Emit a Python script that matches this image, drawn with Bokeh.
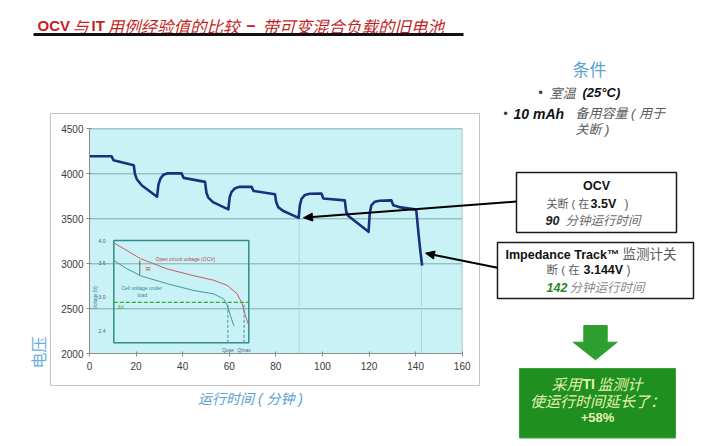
import math
from bokeh.plotting import figure
from bokeh.models import Range1d, LinearAxis, FixedTicker
from bokeh.core.properties import value
from bokeh.embed import file_html
from bokeh.resources import INLINE

# ---------------- data ----------------
time_min = [0, 9.5, 10.3, 19, 19.5, 20.3, 22.5, 29,
            29.6, 30.5, 31.8, 33.5, 39.5, 40.4, 49.6,
            50.2, 51, 53, 59.6, 60.2, 61, 62.5, 64.5, 69.6,
            70.4, 79.6, 80.2, 81, 83, 89.8,
            90.3, 91, 92.5, 94.5, 99.6, 100.4, 109.6,
            110.2, 111, 119.8, 120.3, 121, 122.5, 124.5, 129.6,
            130.4, 133, 139.6, 140.3, 141.2, 142, 142.8]
voltage_mv = [4195, 4195, 4150, 4095, 4000, 3940, 3870, 3745,
              3880, 3950, 3990, 4005, 4005, 3955, 3910,
              3790, 3735, 3685, 3605, 3740, 3800, 3840, 3855, 3855,
              3810, 3772, 3680, 3630, 3590, 3510,
              3650, 3720, 3765, 3778, 3780, 3725, 3705,
              3580, 3535, 3355, 3560, 3650, 3690, 3700, 3705,
              3650, 3630, 3605, 3590, 3350, 3150, 2980]
x_ticks = [0, 20, 40, 60, 80, 100, 120, 140, 160]
y_ticks = [2000, 2500, 3000, 3500, 4000, 4500]
cutoff_time = [90, 142.5]
cutoff_mv = [3510, 2990]

inset_ocv_x = [0, 9.9, 19.8, 39.5, 59.3, 74.1, 84, 91.4, 95.1, 97.5, 100]
inset_ocv_v = [3.96, 3.82, 3.68, 3.50, 3.38, 3.30, 3.21, 3.06, 2.89, 2.68, 2.50]
inset_load_x = [0, 9.9, 19.8, 39.5, 59.3, 74.1, 81.5, 84, 86.4, 88.9]
inset_load_v = [3.65, 3.50, 3.38, 3.24, 3.12, 3.06, 2.97, 2.86, 2.68, 2.50]
inset_cutoff_v = 2.91
inset_q_x = [84.5, 96.5]
inset_q_labels = ["Quse", "Qmax"]
inset_x_lim = [0, 100]
inset_v_lim = [2.2, 4.0]
inset_ticks = [4.0, 3.6, 3.0, 2.4]

# ---------------- layout ----------------
W, H = 715, 440
T0, T1 = 89.0, 461.7      # page px of t=0 / t=160
VT, VB = 128.3, 353.3     # page px of 4500 / 2000
kx = (T1 - T0) / 160.0
ky = (VB - VT) / 2500.0
xr = Range1d(0 - T0 / kx, 160 + (W - T1) / kx)
yr = Range1d(2000 - (H - VB) / ky, 4500 + VT / ky)

IL, IR_, IT_, IB = 113.3, 248.3, 240.0, 342.3
ikx = (IR_ - IL) / 100.0
iky = (IB - IT_) / (4.0 - 2.2)

p = figure(width=W, height=H, x_range=xr, y_range=yr, output_backend="svg",
           toolbar_location=None, x_axis_location=None, y_axis_location=None,
           min_border=0, outline_line_color=None)
p.grid.visible = False
p.background_fill_color = "white"
p.border_fill_color = "white"
p.extra_x_ranges = {"px": Range1d(0, W),
                    "ix": Range1d(0 - IL / ikx, 100 + (W - IR_) / ikx)}
p.extra_y_ranges = {"py": Range1d(H, 0),
                    "iy": Range1d(2.2 - (H - IB) / iky, 4.0 + IT_ / iky)}

MIX = "Liberation Sans, Noto Sans CJK SC"
CJK = "Noto Sans CJK SC"
RED = "#c41e24"
BLUE_T = "#5aa0d2"
GREY = "#5a5a5a"


def txt(x, y, s, size, color, style="normal", align="left", font=MIX,
        angle=0.0, xn="px", yn="py"):
    p.text(x=[x], y=[y], text=[s], text_font=value(font),
           text_font_size=value(f"{size}px"), text_color=color,
           text_font_style=style, text_align=align, text_baseline="middle",
           angle=angle, x_range_name=xn, y_range_name=yn)


def arrow(x0, y0, x1, y1, color="black", width=2.0, head=9.0, hw=4.0):
    dx, dy = x1 - x0, y1 - y0
    L = math.hypot(dx, dy)
    ux, uy = dx / L, dy / L
    bx, by = x1 - ux * head, y1 - uy * head
    nx, ny = -uy, ux
    p.segment(x0=[x0], y0=[y0], x1=[bx], y1=[by], line_color=color,
              line_width=width, x_range_name="px", y_range_name="py")
    p.patch(x=[x1, bx + nx * hw, bx - nx * hw], y=[y1, by + ny * hw, by - ny * hw],
            fill_color=color, line_color=color, x_range_name="px", y_range_name="py")


# ---------------- title ----------------
txt(37, 25, "OCV", 15, RED, "bold")
txt(72, 25, "与", 16, RED, "italic", font=CJK)
txt(91, 25, "IT", 15, RED, "bold")
txt(107, 25, "用例经验值的比较", 16.5, RED, "italic", font=CJK)
txt(246, 25, "–", 16, RED, "bold")
txt(262, 25, "带可变混合负载的旧电池", 16.5, RED, "italic", font=CJK)
p.segment(x0=[33], y0=[34], x1=[463], y1=[34], line_color="#111111", line_width=3,
          x_range_name="px", y_range_name="py")

# ---------------- chart frame ----------------
p.quad(left=[50], right=[479], top=[113], bottom=[385], fill_color="white",
       line_color="#c4c4c4", line_width=1, x_range_name="px", y_range_name="py")
p.quad(left=[x_ticks[0]], right=[x_ticks[-1]], bottom=[y_ticks[0]], top=[y_ticks[-1]],
       fill_color="#c9f2f7", line_color=None)
p.segment(x0=[x_ticks[0]] * (len(y_ticks) - 1), x1=[x_ticks[-1]] * (len(y_ticks) - 1),
          y0=y_ticks[1:], y1=y_ticks[1:], line_color="#84abae", line_width=1)
p.segment(x0=[x_ticks[-1]], x1=[x_ticks[-1]], y0=[y_ticks[0]], y1=[y_ticks[-1]],
          line_color="#b5c9cc", line_width=1)
p.segment(x0=cutoff_time, x1=cutoff_time, y0=[y_ticks[0]] * 2, y1=cutoff_mv,
          line_color="#a6d9e0", line_width=1)

# ---------------- inset ----------------
p.quad(left=[inset_x_lim[0]], right=[inset_x_lim[1]], bottom=[inset_v_lim[0]],
       top=[inset_v_lim[1]], fill_color=None, line_color="#2f8c8c", line_width=1.5,
       x_range_name="ix", y_range_name="iy")
p.line(inset_ocv_x, inset_ocv_v, line_color="#c0605a", line_width=1,
       x_range_name="ix", y_range_name="iy")
p.line(inset_load_x, inset_load_v, line_color="#3b9aa0", line_width=1,
       x_range_name="ix", y_range_name="iy")
p.segment(x0=[inset_x_lim[0]], x1=[inset_x_lim[1]], y0=[inset_cutoff_v], y1=[inset_cutoff_v],
          line_color="#3aaa3a", line_width=1.2, line_dash="4 2",
          x_range_name="ix", y_range_name="iy")
p.segment(x0=inset_q_x, x1=inset_q_x, y0=[inset_v_lim[0]] * 2, y1=[inset_cutoff_v] * 2,
          line_color="#4a8aa6", line_width=1, line_dash="3 2",
          x_range_name="ix", y_range_name="iy")
p.text(x=inset_q_x, y=[inset_v_lim[0]] * 2, text=inset_q_labels, text_font=value(MIX),
       text_font_size=value("5px"), text_color="#4a6a80", text_align="center",
       text_baseline="top", y_offset=4, x_range_name="ix", y_range_name="iy")
p.text(x=[105] * len(inset_ticks), y=inset_ticks, text=[f"{t:.1f}" for t in inset_ticks],
       text_font=value(MIX), text_font_size=value("5px"), text_color="#555555",
       text_align="right", text_baseline="middle", x_range_name="px", y_range_name="iy")
txt(155, 258, "Open circuit voltage (OCV)", 5, "#c04040")
txt(145, 268, "IR", 5, "#c04040")
txt(121, 287, "Cell voltage under", 5, "#2a8a9a")
txt(137, 294, "load", 5, "#2a8a9a")
txt(117, 306, "ΔV", 5, "#33a033")
txt(95, 297, "Voltage (V)", 4.5, "#2a7a9a", align="center", angle=math.pi / 2)
p.segment(x0=[139.3], x1=[139.3], y0=[260], y1=[275], line_color="#444444",
          line_width=0.8, x_range_name="px", y_range_name="py")

# ---------------- main curve ----------------
p.line(time_min, voltage_mv, line_color="#1b2f7e", line_width=2.6, line_join="round")

# ---------------- axes ----------------
xaxis = LinearAxis(fixed_location=y_ticks[0], bounds=(x_ticks[0], x_ticks[-1]),
                   ticker=FixedTicker(ticks=x_ticks))
yaxis = LinearAxis(fixed_location=x_ticks[0], bounds=(y_ticks[0], y_ticks[-1]),
                   ticker=FixedTicker(ticks=y_ticks))
for ax in (xaxis, yaxis):
    ax.axis_line_color = "#8c8c8c"
    ax.major_tick_line_color = "#8c8c8c"
    ax.major_tick_in = 2
    ax.major_tick_out = 3
    ax.minor_tick_line_color = None
    ax.major_label_text_font = "Liberation Sans"
    ax.major_label_text_font_size = "10px"
    ax.major_label_text_color = "#3a3a3a"
xaxis.major_label_standoff = 5
yaxis.major_label_standoff = 3
p.add_layout(xaxis, "below")
p.add_layout(yaxis, "left")

txt(250, 398, "运行时间 ( 分钟 )", 14, BLUE_T, "italic", align="center")
txt(37, 352, "电压", 16, "#6aaedd", align="center", font=CJK, angle=math.pi / 2)

# ---------------- conditions ----------------
txt(589, 68, "条件", 17, BLUE_T, align="center", font=CJK)
txt(538, 92, "•", 12, "#333333")
txt(549, 92, "室温", 13, GREY, "italic", font=CJK)
txt(582, 92, "(25°C)", 13, "#111111", "bold italic")
txt(503, 113, "•", 12, "#333333")
txt(513, 113, "10 mAh", 14, "#111111", "bold italic")
txt(575, 113, "备用容量 ( 用于", 13, GREY, "italic")
txt(575, 129, "关断 )", 13, GREY, "italic")

# ---------------- OCV box ----------------
p.quad(left=[516], right=[676], top=[172], bottom=[232], fill_color="white",
       line_color="#1a1a1a", line_width=1.5, x_range_name="px", y_range_name="py")
txt(596, 185, "OCV", 12.5, "#111111", "bold", align="center")
txt(546, 203, "关断 ( 在", 11, GREY)
txt(590, 203, "3.5V", 12.5, "#111111", "bold")
txt(624, 203, ")", 12, GREY)
txt(545, 220, "90", 12.5, "#222222", "bold italic")
txt(565, 220, "分钟运行时间", 12.5, "#6a6a6a", "italic")

# ---------------- IT box ----------------
p.quad(left=[497], right=[693], top=[242], bottom=[298], fill_color="white",
       line_color="#1a1a1a", line_width=1.5, x_range_name="px", y_range_name="py")
txt(505, 254, "Impedance Track™", 12.5, "#111111", "bold")
txt(622, 254, "监测计关", 13.5, GREY)
txt(546, 269, "断 ( 在", 11.5, GREY)
txt(583, 269, "3.144V", 12.5, "#111111", "bold")
txt(626, 269, ")", 12, GREY)
txt(546, 287, "142", 12.5, "#2a8a2a", "bold italic")
txt(569, 287, "分钟运行时间", 12.5, "#8a8a8a", "italic")

# ---------------- arrows ----------------
arrow(516, 201, 303, 217.3)
arrow(497, 267.3, 425, 252.7)

# ---------------- green arrow + box ----------------
p.patch(x=[583.3, 606.7, 606.7, 616.7, 595, 572.7, 583.3, 583.3],
        y=[325, 325, 341.7, 341.7, 359.3, 341.7, 341.7, 325],
        fill_color="#2e9e2e", line_color="#2e9e2e", x_range_name="px", y_range_name="py")
p.quad(left=[519], right=[675], top=[368], bottom=[437.5], fill_color="#1f8f1f",
       line_color="#3aa03a", line_width=1, x_range_name="px", y_range_name="py")
LY = "#e6f2b4"
txt(551, 383, "采用", 15, LY, "italic", font=CJK)
txt(582, 383, "TI", 14, LY, "bold")
txt(597, 383, "监测计", 15, LY, "italic", font=CJK)
txt(597, 400, "使运行时间延长了：", 15, LY, "italic", align="center", font=CJK)
txt(597, 417, "+58%", 13, LY, "bold", align="center")

open("out.html", "w").write(file_html(p, INLINE))
